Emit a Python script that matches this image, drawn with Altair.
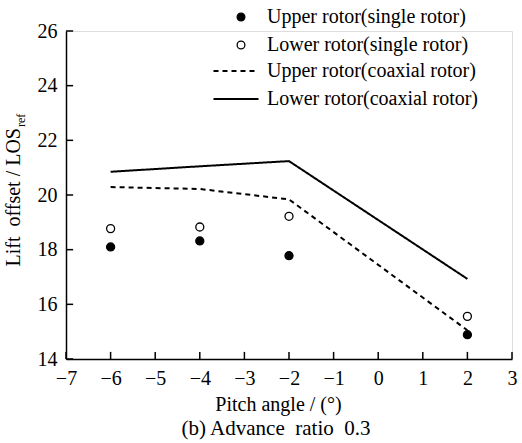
import altair as alt
import pandas as pd

# ---- data ----
pitch = [-6, -4, -2, 2]
upper_single = [18.10, 18.32, 17.78, 14.89]
lower_single = [18.77, 18.83, 19.22, 15.56]
upper_coax = [20.29, 20.22, 19.84, 15.05]
lower_coax = [20.85, 21.05, 21.24, 16.93]

point_names = ["Upper rotor(single rotor)", "Lower rotor(single rotor)"]
line_names = ["Upper rotor(coaxial rotor)", "Lower rotor(coaxial rotor)"]

x_ticks = [-7, -6, -5, -4, -3, -2, -1, 0, 1, 2, 3]
y_ticks = [14, 16, 18, 20, 22, 24, 26]

FONT = "Liberation Serif"
FS = 20
NB = "\u00a0"

pts = pd.DataFrame(
    [{"x": p, "y": v, "series": point_names[0]} for p, v in zip(pitch, upper_single)]
    + [{"x": p, "y": v, "series": point_names[1]} for p, v in zip(pitch, lower_single)]
)
lns = pd.DataFrame(
    [{"x": p, "y": v, "series": line_names[0], "o": i} for i, (p, v) in enumerate(zip(pitch, upper_coax))]
    + [{"x": p, "y": v, "series": line_names[1], "o": i} for i, (p, v) in enumerate(zip(pitch, lower_coax))]
)
xt = pd.DataFrame({"x": x_ticks, "y": [14] * len(x_ticks), "y2": [14.26] * len(x_ticks)})
yt = pd.DataFrame({"y": y_ticks, "x": [-7] * len(y_ticks), "x2": [-6.84] * len(y_ticks)})

xs = alt.Scale(domain=[-7, 3], nice=False, zero=False)
ys = alt.Scale(domain=[14, 26], nice=False, zero=False)

xaxis = alt.Axis(values=x_ticks, format="d", title="Pitch angle / (°)", grid=False, ticks=False,
                 domainColor="black", domainWidth=1.5, labelFont=FONT, labelFontSize=FS,
                 labelColor="black", labelPadding=9, titleFont=FONT, titleFontSize=FS,
                 titleFontWeight="normal", titleColor="black", titlePadding=6, titleX=212,
                 labelFlush=False)
yaxis = alt.Axis(values=y_ticks, format="d", title=None, grid=False, ticks=False,
                 domainColor="black", domainWidth=1.5, labelFont=FONT, labelFontSize=FS,
                 labelColor="black", labelPadding=9, labelFlush=False)

X = alt.X("x:Q", scale=xs, axis=xaxis)
Y = alt.Y("y:Q", scale=ys, axis=yaxis)

lines = alt.Chart(lns).mark_line(color="black", strokeWidth=2).encode(
    x=X, y=Y,
    order="o:O",
    detail="series:N",
    strokeDash=alt.StrokeDash(
        "series:N",
        scale=alt.Scale(domain=line_names, range=[[5, 4], [1, 0]]),
        legend=alt.Legend(title=None, orient="none", legendX=160, legendY=30, padding=0,
                          symbolType="M-5,0H5", symbolSize=81, symbolStrokeWidth=2,
                          symbolStrokeColor="black", labelFont=FONT, labelFontSize=FS,
                          labelColor="black", labelOffset=21, rowPadding=8, labelLimit=400),
    ),
)

points = alt.Chart(pts).mark_point(filled=True, size=64, stroke="black", strokeWidth=1.3, opacity=1).encode(
    x=X, y=Y,
    fill=alt.Fill(
        "series:N",
        scale=alt.Scale(domain=point_names, range=["black", "white"]),
        legend=alt.Legend(title=None, orient="none", legendX=165, legendY=-24, padding=0,
                          symbolType="circle", symbolSize=60, symbolStrokeWidth=1.3,
                          symbolStrokeColor="black", symbolOpacity=1, labelFont=FONT,
                          labelFontSize=FS, labelColor="black", labelOffset=16, rowPadding=8,
                          labelLimit=400),
    ),
)

xtick_marks = alt.Chart(xt).mark_rule(color="black", strokeWidth=1.5).encode(
    x=X, y=Y, y2="y2:Q"
)
ytick_marks = alt.Chart(yt).mark_rule(color="black", strokeWidth=1.5).encode(
    y=Y, x=X, x2="x2:Q"
)

one = pd.DataFrame({"a": [0]})
ytitle = alt.Chart(one).mark_text(angle=270, align="right", baseline="alphabetic",
                                  font=FONT, fontSize=FS, color="black").encode(
    x=alt.value(-46), y=alt.value(97), text=alt.value("Lift" + NB + NB + "offset / LOS"))
ysub = alt.Chart(one).mark_text(angle=270, align="left", baseline="alphabetic",
                                font=FONT, fontSize=12, color="black").encode(
    x=alt.value(-41), y=alt.value(96), text=alt.value("ref"))

chart = alt.layer(xtick_marks, ytick_marks, lines, points, ytitle, ysub).properties(
    width=446, height=328,
    autosize=alt.AutoSizeParams(type="none"),
    padding={"left": 66, "top": 31, "right": 10, "bottom": 84},
    title=alt.TitleParams("(b) Advance" + NB + NB + "ratio" + NB + NB + "0.3", orient="bottom",
                          font=FONT, fontSize=21, fontWeight="normal", color="black",
                          dx=-13, offset=4),
).resolve_scale(fill="independent", strokeDash="independent").configure_view(stroke=None).configure(
    background="white", font=FONT
).configure_axis(labelFont=FONT, titleFont=FONT).configure_legend(labelFont=FONT)

chart.save("out.html", embed_options={"renderer": "svg", "actions": False})
